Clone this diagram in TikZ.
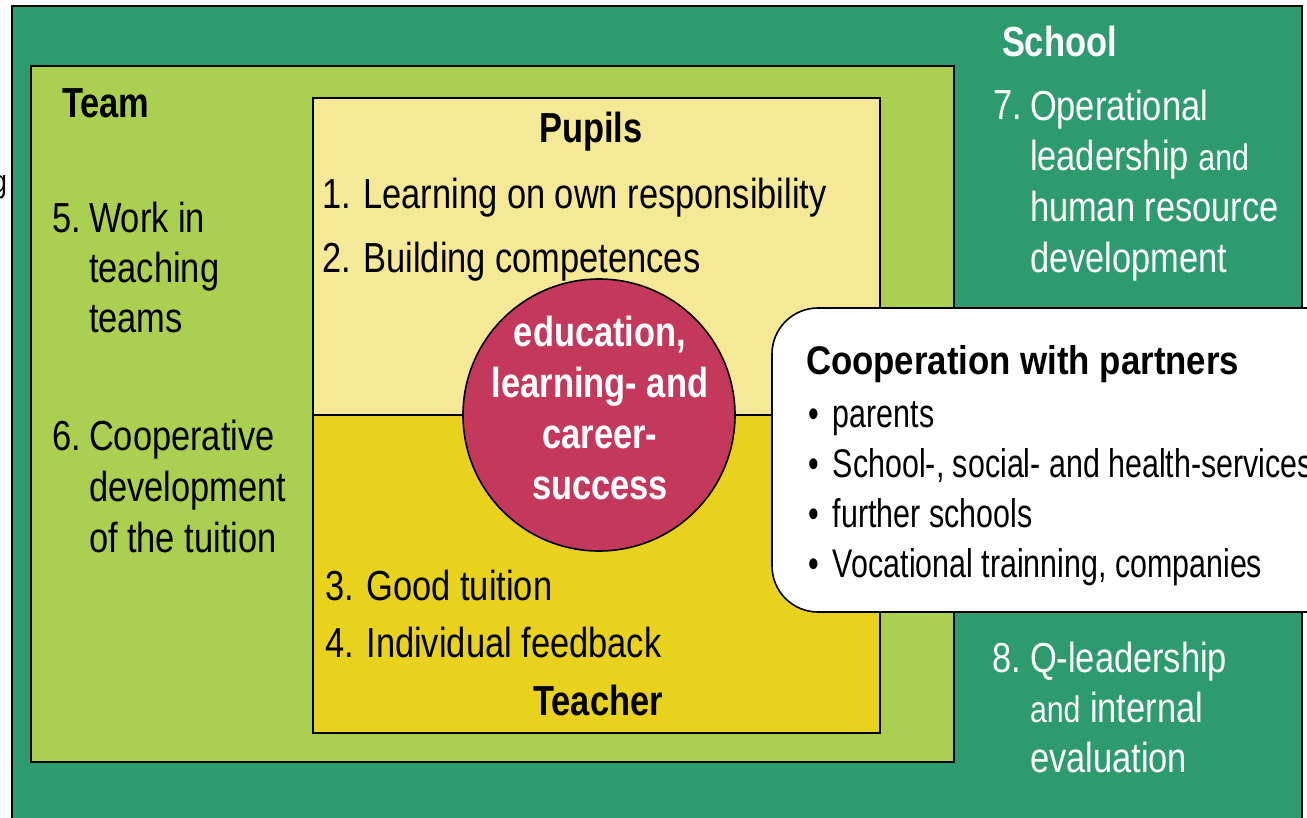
\documentclass[tikz,border=0pt]{standalone}
\usepackage{fontspec}
\setmainfont{Liberation Sans}[FakeStretch=0.82]
\newfontfamily\partnerfont{Liberation Sans}[FakeStretch=0.76]
\newfontfamily\titlefont{Liberation Sans}[FakeStretch=0.87]
\definecolor{schoolgreen}{RGB}{45,155,110}
\definecolor{teamgreen}{RGB}{171,207,80}
\definecolor{pupilyellow}{RGB}{245,232,150}
\definecolor{teachyellow}{RGB}{232,210,30}
\definecolor{goalred}{RGB}{196,56,92}
\begin{document}
\begin{tikzpicture}[x=1pt,y=-1pt,
  every node/.style={inner sep=0pt, outer sep=0pt},
  txt/.style={font=\fontsize{42}{50.5}\selectfont, align=left, anchor=base west},
  head/.style={font=\bfseries\fontsize{42}{50}\selectfont, anchor=base},
  zone/.style={draw=black, line width=1.6pt}]
\useasboundingbox (0,0) rectangle (1307,818);
\clip (0,0) rectangle (1307,818);
\fill[white] (0,0) rectangle (1307,818);
% zones
\filldraw[zone, fill=schoolgreen] (12,6) rectangle (1302,840);
\filldraw[zone, fill=teamgreen] (31,66) rectangle (954,762);
\filldraw[zone, fill=pupilyellow] (313,98) rectangle (880,415);
\filldraw[zone, fill=teachyellow] (313,415) rectangle (880,733);
% clipped fragment at left edge
\node[font=\fontsize{32}{38}\selectfont, anchor=base east] (frag) at (7,193) {g};
% centre circle (multi-line nodes are placed by the baseline of their last line)
\node[circle, draw=black, line width=1.6pt, fill=goalred, minimum size=272pt] (goal) at (599,415) {};
\node[font=\bfseries\fontsize{42}{51}\selectfont, align=center, anchor=base, text=white] (goaltext) at (600,499)
  {education,\\learning- and\\career-\\success};
% team
\node[head, anchor=base west] (team) at (62,118) {Team};
\node[txt] (n5) at (52,233) {5.};
\node[txt, font=\fontsize{42}{50}\selectfont] (t5) at (89,333) {Work in\\teaching\\teams};
\node[txt] (n6) at (52,450) {6.};
\node[txt, font=\fontsize{42}{51}\selectfont] (t6) at (89,552) {Cooperative\\development\\of the tuition};
% pupils
\node[head] (pupils) at (591,143) {Pupils};
\node[txt] (t1) at (322,209) {1. Learning on own responsibility};
\node[txt] (t2) at (322,273) {2. Building competences};
% teacher
\node[txt] (t3) at (325,600) {3. Good tuition};
\node[txt] (t4) at (325,657) {4. Individual feedback};
\node[head] (teacher) at (598,715) {Teacher};
% school
\node[head, anchor=base west, text=white] (school) at (1002,57) {School};
\node[txt, text=white] (n7) at (993,120) {7.};
\node[txt, text=white, font=\fontsize{42}{51}\selectfont] (t7) at (1030,273)
  {Operational\\leadership {\fontsize{37}{51}\selectfont and}\\human resource\\development};
\node[txt, text=white] (n8) at (992,672) {8.};
\node[txt, text=white, font=\fontsize{42}{50}\selectfont] (t8) at (1030,772)
  {Q-leadership\\{\fontsize{37}{50}\selectfont and} internal\\evaluation};
% partners
\filldraw[draw=black, line width=1.6pt, fill=white, rounded corners=46pt] (772,308) rectangle (1360,612);
\node[font=\titlefont\bfseries\fontsize{40}{50}\selectfont, anchor=base west] (partners) at (806,374) {Cooperation with partners};
\node[font=\partnerfont\fontsize{40}{50}\selectfont, align=left, anchor=base west] (plist) at (808,577)
  {\makebox[25pt][l]{•}parents\\
   \makebox[25pt][l]{•}School-, social- and health-services\\
   \makebox[25pt][l]{•}further schools\\
   \makebox[25pt][l]{•}Vocational trainning, companies};
\end{tikzpicture}
\end{document}
